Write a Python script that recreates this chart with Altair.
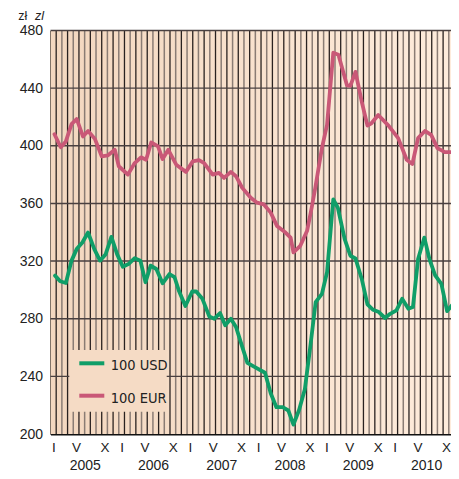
import altair as alt
import pandas as pd

# ---------------- data ----------------
# t = months since start of January 2005 (fractional)
t_usd = [0.8, 1.7, 2.7, 3.7, 4.6, 5.6, 6.6, 7.7, 8.7, 9.7, 10.7, 11.7, 12.7, 13.7, 14.8,
         15.8, 16.7, 17.6, 18.6, 19.7, 20.9, 21.8, 22.6, 23.7, 24.9, 25.6, 26.7, 27.9,
         28.8, 29.8, 30.7, 31.7, 32.6, 33.7, 34.6, 36.0, 37.7, 38.7, 39.7, 40.8, 41.8,
         42.7, 43.7, 44.7, 45.7, 46.6, 47.7, 48.6, 49.7, 50.5, 51.7, 52.7, 53.6, 54.7,
         55.7, 56.7, 57.7, 58.8, 59.7, 60.8, 61.8, 62.9, 63.7, 64.6, 65.7, 66.6, 67.6,
         68.7, 69.7, 70.7, 71.4]
v_usd = [309.9, 306, 304.8, 320.3, 328.3, 332.9, 339.8, 328.3, 320.3, 324.8, 336.8, 324.8,
         316.1, 317.9, 322, 320.3, 305.3, 316.8, 314.5, 304.6, 311, 308.8, 299, 288.8,
         298.9, 298.9, 293.8, 281.6, 280, 283.9, 275.4, 280, 274.3, 260.5, 249.4, 246.2,
         242.5, 228.3, 218.6, 218.6, 216.3, 206.5, 216.8, 231, 262, 291.5, 297.2, 312.2,
         362.8, 357, 335.2, 323.7, 321.8, 307.6, 289.9, 286.2, 284.6, 280.5, 283.4, 285.8,
         293.8, 286.9, 288.1, 321.4, 336.3, 321.4, 310, 304.1, 285.3, 289.9, 300.7]

t_eur = [0.7, 1.8, 2.7, 3.7, 4.6, 5.7, 6.6, 7.8, 9.0, 10.1, 11.3, 12.0, 13.6, 14.8, 15.9,
         16.8, 17.7, 18.9, 19.7, 20.7, 22.1, 23.8, 25.0, 26.1, 27.0, 28.5, 29.6, 30.5,
         31.7, 32.6, 33.7, 35.2, 36.3, 37.5, 38.7, 39.8, 41.3, 42.2, 42.7, 43.9, 45.1,
         45.9, 46.5, 47.7, 48.6, 49.7, 50.6, 52.1, 52.7, 53.6, 54.7, 55.7, 56.4, 57.6,
         59.4, 61.1, 62.6, 63.6, 64.6, 65.8, 66.9, 68.0, 69.3, 70.7, 71.4]
v_eur = [408, 399, 403, 415, 418.6, 406.5, 410.3, 404.8, 392.7, 393.4, 397.2, 385.8, 380,
         388, 392, 390.3, 402.3, 399.6, 390.8, 397.2, 386.9, 381.9, 389.2, 390, 388, 380,
         381.2, 377.7, 381.9, 378.9, 370.8, 363.9, 360.5, 359.3, 353.6, 344.4, 339.8,
         336.3, 326, 330.6, 341, 357, 370, 398.4, 414.5, 464.6, 463.2, 442, 441.6, 451.3,
         430.6, 414, 415.6, 421.4, 414, 405.3, 390.3, 387.4, 405.3, 410.3, 407.6, 398.4,
         395.6, 395.6, 400]

years = ["2005", "2006", "2007", "2008", "2009", "2010"]
month_marks = {0: "I", 4: "V", 9: "X"}
y_ticks = [200, 240, 280, 320, 360, 400, 440, 480]
series_names = ["100 USD", "100 EUR"]

# ---------------- layout / style ----------------
W, H = 400.5, 403.5        # visible plot area (the page is 459 wide)
XMAX = 71.4
RANGE_W = XMAX * 5.69      # scale range: the plot continues past the page edge
GREEN = "#109e68"
PINK = "#c95877"
FONT = "Liberation Sans, Arial, Helvetica, sans-serif"
NARROW = "Liberation Sans Narrow, Arial Narrow, DejaVu Sans Condensed, sans-serif"

xscale = alt.Scale(domain=[0, XMAX], range=[0, RANGE_W], nice=False, zero=False)
yscale = alt.Scale(domain=[200, 480], nice=False, zero=False)

x_ticks = [12 * k + m + 0.5 for k in range(len(years)) for m in month_marks]
label_expr = ("(floor(datum.value) % 12) == 0 ? 'I' : "
              "((floor(datum.value) % 12) == 4 ? 'V' : 'X')")
xaxis = alt.Axis(values=x_ticks, labelExpr=label_expr, ticks=False, grid=False,
                 domain=True, domainColor="#111", domainWidth=2, labelFont=FONT,
                 labelFontSize=13.5, labelColor="#222", labelPadding=6, title=None,
                 labelOverlap=False, labelFlush=False)
yaxis = alt.Axis(values=y_ticks, ticks=False, grid=False, domain=True, domainColor="#111",
                 domainWidth=2, labelFont=FONT, labelFontSize=14, labelColor="#222",
                 labelPadding=8, title=None, labelOverlap=False, labelFlush=False)

X = alt.X("t:Q", scale=xscale, axis=xaxis)
Y = alt.Y("v:Q", scale=yscale, axis=yaxis)

one = pd.DataFrame({"a": [0]})

bg = alt.Chart(one).mark_rect(
    color=alt.LinearGradient(
        gradient="linear",
        stops=[alt.GradientStop(color="#f3d7bf", offset=0),
               alt.GradientStop(color="#feecdc", offset=1)],
        x1=0, x2=1, y1=0, y2=0)
).encode(x=alt.value(0), x2=alt.value(W), y=alt.value(0), y2=alt.value(H))

bounds = list(range(1, 72))
dark_b = pd.DataFrame({"t": [b for b in bounds if b % 2 == 1]})
gray_b = pd.DataFrame({"t": [b for b in bounds if b % 2 == 0]})

vdark = alt.Chart(dark_b).mark_rule(color="#2a2220", strokeWidth=1.3, clip=True).encode(
    x=X, y=alt.value(0), y2=alt.value(H))
vgray = alt.Chart(gray_b).mark_rule(color="#8a7c74", strokeWidth=1.5, clip=True).encode(
    x=X, y=alt.value(0), y2=alt.value(H))

hgrid = alt.Chart(pd.DataFrame({"v": y_ticks[1:]})).mark_rule(
    color="#4a4040", strokeWidth=1.4).encode(y=Y, x=alt.value(0), x2=alt.value(W))

legend_box = alt.Chart(one).mark_rect(color="#f5dbc5").encode(
    x=alt.value(18.8), x2=alt.value(116.2), y=alt.value(319.5), y2=alt.value(381.2))

leg_df = pd.DataFrame({"name": series_names, "ly": [332.8, 365.2], "ty": [339.8, 372.2],
                       "c": [GREEN, PINK]})
leg_lines = alt.Chart(leg_df).mark_rule(strokeWidth=4).encode(
    x=alt.value(28.8), x2=alt.value(53.8), y=alt.Y("ly:Q", scale=None),
    color=alt.Color("c:N", scale=None))
leg_text = alt.Chart(leg_df).mark_text(
    align="left", baseline="alphabetic", font=NARROW, fontSize=14.5, color="#222"
).encode(x=alt.value(60.2), y=alt.Y("ty:Q", scale=None), text="name:N")

usd = alt.Chart(pd.DataFrame({"t": t_usd, "v": v_usd})).mark_line(
    color=GREEN, strokeWidth=3.8, strokeJoin="round", strokeCap="round", clip=True
).encode(x=X, y=Y)
eur = alt.Chart(pd.DataFrame({"t": t_eur, "v": v_eur})).mark_line(
    color=PINK, strokeWidth=3.8, strokeJoin="round", strokeCap="round", clip=True
).encode(x=X, y=Y)

year_df = pd.DataFrame({"t": [12 * k + 6.1 for k in range(len(years))], "label": years})
year_text = alt.Chart(year_df).mark_text(
    baseline="alphabetic", align="center", font=FONT, fontSize=14, color="#222"
).encode(x=X, y=alt.value(H + 35.5), text="label:N")

unit1 = alt.Chart(one).mark_text(align="left", baseline="alphabetic", font=FONT,
                                 fontSize=12.5, color="#222", text="zł").encode(
    x=alt.value(-32.2), y=alt.value(-11))
unit2 = alt.Chart(one).mark_text(align="left", baseline="alphabetic", font=FONT,
                                 fontSize=12.5, fontStyle="italic", color="#222",
                                 text="zl").encode(x=alt.value(-15.5), y=alt.value(-11))

chart = alt.layer(
    bg, vgray, vdark, hgrid, legend_box, leg_lines, leg_text, usd, eur, year_text,
    unit1, unit2
).properties(
    width=W, height=H,
    autosize=alt.AutoSizeParams(type="none"),
    padding={"left": 42.5, "top": 22.5, "right": 0, "bottom": 37},
).configure_view(stroke=None, fill=None)

chart.save("out.html", embed_options={"renderer": "svg", "actions": False})
